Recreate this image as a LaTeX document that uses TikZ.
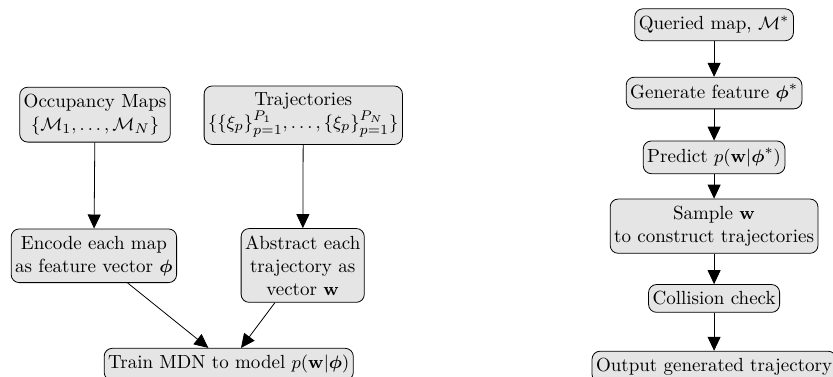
\documentclass[tikz,border=0pt]{standalone}
\usepackage{amsmath,amssymb,bm}
\usepackage{tikz}
\usetikzlibrary{arrows.meta, positioning}

\begin{document}
\begin{tikzpicture}[
    blk/.style={draw, fill=black!10, rounded corners=4pt, inner xsep=2pt, inner ysep=3.5pt,
        align=center, font=\fontsize{9.5pt}{11.5pt}\selectfont},
    flow/.style={-{Triangle[length=7pt, width=6.5pt]}}
]
    \clip (0,0) rectangle (14.64,6.625);
    % training
    \node[blk] (occ)   at (1.67,4.61) {Occupancy Maps\\$\{\mathcal{M}_1,\dots,\mathcal{M}_N\}$};
    \node[blk] (traj)  at (5.33,4.60) {Trajectories\\$\{\{\xi_p\}_{p=1}^{P_1},\dots,\{\xi_p\}_{p=1}^{P_N}\}$};
    \node[blk] (enc)   at (1.65,2.13) {Encode each map\\as feature vector $\bm{\phi}$};
    \node[blk] (abs)   at (5.32,1.96) {Abstract each\\trajectory as\\vector $\mathbf{w}$};
    \node[blk, anchor=north] (train) at (4.02,0.51) {Train MDN to model $p(\mathbf{w}|\bm{\phi})$};
    \draw[flow] (occ) -- (enc);
    \draw[flow] (traj) -- (abs);
    \draw[flow] (enc) -- (train);
    \draw[flow] (abs) -- (train);
    % generation
    \node[blk] (query) at (12.55,6.19) {Queried map, $\mathcal{M}^*$};
    \node[blk] (gen)   at (12.55,4.99) {Generate feature $\bm{\phi}^*$};
    \node[blk] (pred)  at (12.55,3.86) {Predict $p(\mathbf{w}|\bm{\phi}^*)$};
    \node[blk] (samp)  at (12.55,2.65) {Sample $\mathbf{w}$\\to construct trajectories};
    \node[blk] (coll)  at (12.55,1.38) {Collision check};
    \node[blk, anchor=north] (out) at (12.55,0.46) {Output generated trajectory};
    \draw[flow] (query) -- (gen);
    \draw[flow] (gen) -- (pred);
    \draw[flow] (pred) -- (samp);
    \draw[flow] (samp) -- (coll);
    \draw[flow] (coll) -- (out);
\end{tikzpicture}
\end{document}
